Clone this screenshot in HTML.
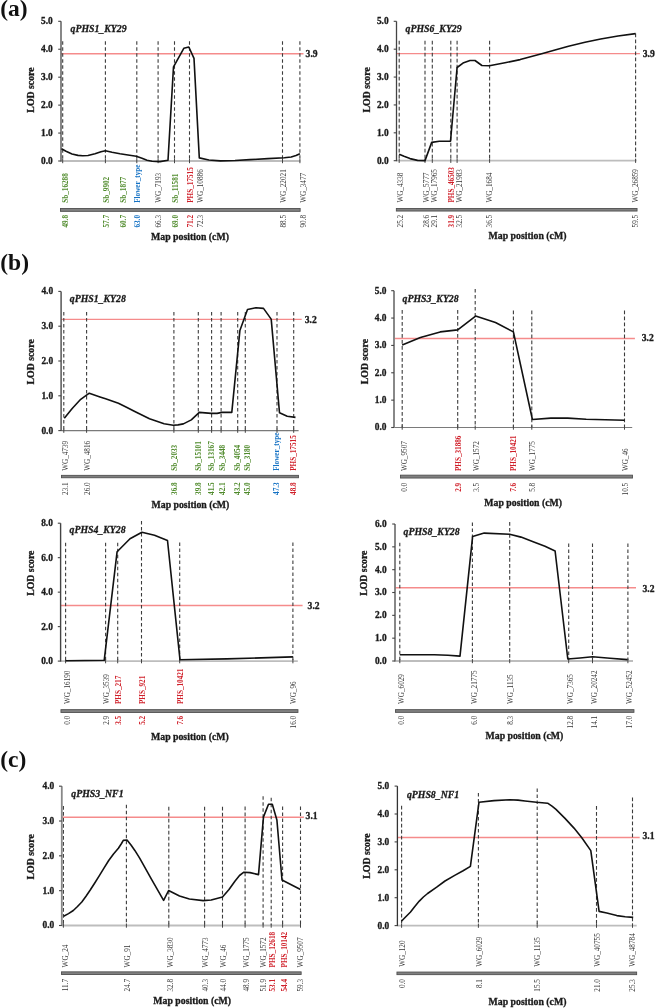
<!DOCTYPE html>
<html><head><meta charset="utf-8"><title>LOD plots</title>
<style>
html,body{margin:0;padding:0;background:#fff;}
body{width:656px;height:1008px;overflow:hidden;}
svg{display:block;filter:blur(0.3px);}
text{font-family:"Liberation Serif",serif;}
.dash{stroke:#3c3c3c;stroke-width:1.1;stroke-dasharray:3.6 2.4;fill:none;}
.thr{stroke:#f58b8b;stroke-width:1.4;}
.xal{stroke:#bdbdbd;stroke-width:1.8;}
.xad{stroke:#7a7a7a;stroke-width:1.1;}
.xt{stroke:#444;stroke-width:1;}
.yax{stroke:#555;stroke-width:1.3;}
.yt{stroke:#444;stroke-width:1.1;}
.tl{font-size:9.4px;font-weight:bold;text-anchor:end;fill:#1a1a1a;stroke:#1a1a1a;stroke-width:0.3;}
.crv{fill:none;stroke:#111;stroke-width:1.6;stroke-linejoin:round;}
.ttl{font-size:9.8px;font-weight:bold;font-style:italic;fill:#1a1a1a;stroke:#1a1a1a;stroke-width:0.3;}
.lod{font-size:9.8px;font-weight:bold;text-anchor:middle;fill:#1a1a1a;stroke:#1a1a1a;stroke-width:0.3;}
.thl{font-size:9.6px;font-weight:bold;fill:#1a1a1a;stroke:#1a1a1a;stroke-width:0.3;}
.mk{font-size:7.2px;}
.bar{fill:#808080;stroke:#505050;stroke-width:0.9;}
.mp{font-size:9.8px;font-weight:bold;text-anchor:middle;fill:#1a1a1a;stroke:#1a1a1a;stroke-width:0.3;}
.pl{font-size:23.5px;font-weight:bold;fill:#111;}
</style></head>
<body><svg width="656" height="1008" viewBox="0 0 656 1008">
<rect width="656" height="1008" fill="#fff"/>
<line x1="61" y1="53.7" x2="303.5" y2="53.7" class="thr"/>
<line x1="62.7" y1="41.2" x2="62.7" y2="161" class="dash"/>
<line x1="105.4" y1="41.2" x2="105.4" y2="161" class="dash"/>
<line x1="136.8" y1="41.2" x2="136.8" y2="161" class="dash"/>
<line x1="158.1" y1="41.2" x2="158.1" y2="161" class="dash"/>
<line x1="174.5" y1="41.2" x2="174.5" y2="161" class="dash"/>
<line x1="189.5" y1="41.2" x2="189.5" y2="161" class="dash"/>
<line x1="282.5" y1="41.2" x2="282.5" y2="161" class="dash"/>
<line x1="299.9" y1="41.2" x2="299.9" y2="161" class="dash"/>
<line x1="61" y1="161" x2="300.5" y2="161" class="xal"/>
<line x1="62.7" y1="159" x2="62.7" y2="163.2" class="xt"/>
<line x1="105.4" y1="159" x2="105.4" y2="163.2" class="xt"/>
<line x1="136.8" y1="159" x2="136.8" y2="163.2" class="xt"/>
<line x1="158.1" y1="159" x2="158.1" y2="163.2" class="xt"/>
<line x1="174.5" y1="159" x2="174.5" y2="163.2" class="xt"/>
<line x1="189.5" y1="159" x2="189.5" y2="163.2" class="xt"/>
<line x1="282.5" y1="159" x2="282.5" y2="163.2" class="xt"/>
<line x1="299.9" y1="159" x2="299.9" y2="163.2" class="xt"/>
<line x1="61" y1="21.3" x2="61" y2="161.5" stroke="#555" stroke-width="1.4"/>
<line x1="58.2" y1="161" x2="61" y2="161" class="yt"/>
<text x="52.7" y="163.9" class="tl">0.0</text>
<line x1="58.2" y1="133.06" x2="61" y2="133.06" class="yt"/>
<text x="52.7" y="135.96" class="tl">1.0</text>
<line x1="58.2" y1="105.12" x2="61" y2="105.12" class="yt"/>
<text x="52.7" y="108.02" class="tl">2.0</text>
<line x1="58.2" y1="77.18" x2="61" y2="77.18" class="yt"/>
<text x="52.7" y="80.08" class="tl">3.0</text>
<line x1="58.2" y1="49.24" x2="61" y2="49.24" class="yt"/>
<text x="52.7" y="52.14" class="tl">4.0</text>
<line x1="58.2" y1="21.3" x2="61" y2="21.3" class="yt"/>
<text x="52.7" y="24.2" class="tl">5.0</text>
<polyline points="61.5,148.8 66,151.3 72,154 78,155.4 82.7,155.7 88,155.5 95,153.8 101,151.8 105.4,150.8 112,152.3 120,153.8 128,155 136.3,156.3 142,158.2 147,160.2 152.1,161.2 160,161.6 168,160.3 173.5,66.9 183.8,48.3 188.8,47 194,58.4 199.3,157.9 208.9,160 220.3,160.9 235,160.5 250,159.6 268,158.6 284.3,157.7 291.2,157 296,155.6 299.9,153.8" class="crv"/>
<text x="70.5" y="32.2" class="ttl">qPHS1_KY29</text>
<text transform="translate(34.2,90) rotate(-90)" class="lod">LOD score</text>
<text x="305.6" y="56.9" class="thl">3.9</text>
<text transform="translate(68.08,202.8) rotate(-90)" fill="#4f8a2b" font-weight="bold" class="mk">Sb_16288</text>
<text transform="translate(68.08,215) rotate(-90)" fill="#4f8a2b" font-weight="bold" class="mk" text-anchor="end">49.8</text>
<text transform="translate(108.78,202.8) rotate(-90)" fill="#4f8a2b" font-weight="bold" class="mk">Sb_9902</text>
<text transform="translate(108.78,215) rotate(-90)" fill="#4f8a2b" font-weight="bold" class="mk" text-anchor="end">57.7</text>
<text transform="translate(125.68,202.8) rotate(-90)" fill="#4f8a2b" font-weight="bold" class="mk">Sb_1877</text>
<text transform="translate(125.68,215) rotate(-90)" fill="#4f8a2b" font-weight="bold" class="mk" text-anchor="end">60.7</text>
<text transform="translate(139.58,202.8) rotate(-90)" fill="#1572c4" font-weight="bold" class="mk">Flower_type</text>
<text transform="translate(139.58,215) rotate(-90)" fill="#1572c4" font-weight="bold" class="mk" text-anchor="end">63.0</text>
<text transform="translate(160.98,202.8) rotate(-90)" fill="#333333" class="mk">WG_7193</text>
<text transform="translate(160.98,215) rotate(-90)" fill="#333333" class="mk" text-anchor="end">66.3</text>
<text transform="translate(178.18,202.8) rotate(-90)" fill="#4f8a2b" font-weight="bold" class="mk">Sb_11581</text>
<text transform="translate(178.18,215) rotate(-90)" fill="#4f8a2b" font-weight="bold" class="mk" text-anchor="end">69.0</text>
<text transform="translate(193.08,202.8) rotate(-90)" fill="#d0202a" font-weight="bold" class="mk">PHS_17515</text>
<text transform="translate(193.08,215) rotate(-90)" fill="#d0202a" font-weight="bold" class="mk" text-anchor="end">71.2</text>
<text transform="translate(203.18,202.8) rotate(-90)" fill="#333333" class="mk">WG_10886</text>
<text transform="translate(203.18,215) rotate(-90)" fill="#333333" class="mk" text-anchor="end">72.3</text>
<text transform="translate(286.28,202.8) rotate(-90)" fill="#333333" class="mk">WG_22021</text>
<text transform="translate(286.28,215) rotate(-90)" fill="#333333" class="mk" text-anchor="end">88.5</text>
<text transform="translate(305.98,202.8) rotate(-90)" fill="#333333" class="mk">WG_3477</text>
<text transform="translate(305.98,215) rotate(-90)" fill="#333333" class="mk" text-anchor="end">90.8</text>
<rect x="60.45" y="208.45" width="239.7" height="2.9" class="bar"/>
<text x="190" y="239.6" class="mp">Map position (cM)</text>
<line x1="396.5" y1="53.6" x2="639.9" y2="53.6" class="thr"/>
<line x1="399.2" y1="40.8" x2="399.2" y2="160.7" class="dash"/>
<line x1="425" y1="40.8" x2="425" y2="160.7" class="dash"/>
<line x1="432.3" y1="40.8" x2="432.3" y2="160.7" class="dash"/>
<line x1="450.8" y1="40.8" x2="450.8" y2="160.7" class="dash"/>
<line x1="457.1" y1="40.8" x2="457.1" y2="160.7" class="dash"/>
<line x1="489.6" y1="40.8" x2="489.6" y2="160.7" class="dash"/>
<line x1="635.6" y1="33.6" x2="635.6" y2="160.7" class="dash"/>
<line x1="396.5" y1="160.7" x2="636.5" y2="160.7" class="xal"/>
<line x1="399.2" y1="158.7" x2="399.2" y2="162.9" class="xt"/>
<line x1="425" y1="158.7" x2="425" y2="162.9" class="xt"/>
<line x1="432.3" y1="158.7" x2="432.3" y2="162.9" class="xt"/>
<line x1="450.8" y1="158.7" x2="450.8" y2="162.9" class="xt"/>
<line x1="457.1" y1="158.7" x2="457.1" y2="162.9" class="xt"/>
<line x1="489.6" y1="158.7" x2="489.6" y2="162.9" class="xt"/>
<line x1="635.6" y1="158.7" x2="635.6" y2="162.9" class="xt"/>
<line x1="396.5" y1="21.3" x2="396.5" y2="161.2" stroke="#444" stroke-width="1.3"/>
<line x1="393.7" y1="160.7" x2="396.5" y2="160.7" class="yt"/>
<text x="388.6" y="163.6" class="tl">0.0</text>
<line x1="393.7" y1="132.82" x2="396.5" y2="132.82" class="yt"/>
<text x="388.6" y="135.72" class="tl">1.0</text>
<line x1="393.7" y1="104.94" x2="396.5" y2="104.94" class="yt"/>
<text x="388.6" y="107.84" class="tl">2.0</text>
<line x1="393.7" y1="77.06" x2="396.5" y2="77.06" class="yt"/>
<text x="388.6" y="79.96" class="tl">3.0</text>
<line x1="393.7" y1="49.18" x2="396.5" y2="49.18" class="yt"/>
<text x="388.6" y="52.08" class="tl">4.0</text>
<line x1="393.7" y1="21.3" x2="396.5" y2="21.3" class="yt"/>
<text x="388.6" y="24.2" class="tl">5.0</text>
<polyline points="399.2,154.3 404,156.3 410,158.6 417.5,160.4 425,160.6 431.7,142.4 439.3,141.2 450.5,141.2 457.1,67.5 463,63.1 470,60.5 475,60.5 481.9,65.5 489.4,65.8 505,62.8 520.2,59.6 541.7,53.7 555,50 568.5,46.2 585,42.3 600.7,39 618,36 635.6,33.6" class="crv"/>
<text x="405.6" y="32.2" class="ttl">qPHS6_KY29</text>
<text transform="translate(370.2,89.9) rotate(-90)" class="lod">LOD score</text>
<text x="642.7" y="56.8" class="thl">3.9</text>
<text transform="translate(403.18,202.6) rotate(-90)" fill="#333333" class="mk">WG_4338</text>
<text transform="translate(403.18,214.8) rotate(-90)" fill="#333333" class="mk" text-anchor="end">25.2</text>
<text transform="translate(428.88,202.6) rotate(-90)" fill="#333333" class="mk">WG_5777</text>
<text transform="translate(428.88,214.8) rotate(-90)" fill="#333333" class="mk" text-anchor="end">28.6</text>
<text transform="translate(436.88,202.6) rotate(-90)" fill="#333333" class="mk">WG_17965</text>
<text transform="translate(436.88,214.8) rotate(-90)" fill="#333333" class="mk" text-anchor="end">29.1</text>
<text transform="translate(454.28,202.6) rotate(-90)" fill="#d0202a" font-weight="bold" class="mk">PHS_46503</text>
<text transform="translate(454.28,214.8) rotate(-90)" fill="#d0202a" font-weight="bold" class="mk" text-anchor="end">31.9</text>
<text transform="translate(461.98,202.6) rotate(-90)" fill="#333333" class="mk">WG_21983</text>
<text transform="translate(461.98,214.8) rotate(-90)" fill="#333333" class="mk" text-anchor="end">32.5</text>
<text transform="translate(492.28,202.6) rotate(-90)" fill="#333333" class="mk">WG_1684</text>
<text transform="translate(492.28,214.8) rotate(-90)" fill="#333333" class="mk" text-anchor="end">36.5</text>
<text transform="translate(638.28,202.6) rotate(-90)" fill="#333333" class="mk">WG_26859</text>
<text transform="translate(638.28,214.8) rotate(-90)" fill="#333333" class="mk" text-anchor="end">59.5</text>
<rect x="396.35" y="208.45" width="240.7" height="2.6" class="bar"/>
<text x="527.5" y="239.4" class="mp">Map position (cM)</text>
<line x1="61.1" y1="319.4" x2="301.7" y2="319.4" class="thr"/>
<line x1="63.8" y1="311.9" x2="63.8" y2="430.6" class="dash"/>
<line x1="86.6" y1="311.9" x2="86.6" y2="430.6" class="dash"/>
<line x1="173.9" y1="311.9" x2="173.9" y2="430.6" class="dash"/>
<line x1="198.3" y1="311.9" x2="198.3" y2="430.6" class="dash"/>
<line x1="211.6" y1="311.9" x2="211.6" y2="430.6" class="dash"/>
<line x1="221.1" y1="311.9" x2="221.1" y2="430.6" class="dash"/>
<line x1="237.7" y1="311.9" x2="237.7" y2="430.6" class="dash"/>
<line x1="245.3" y1="311.9" x2="245.3" y2="430.6" class="dash"/>
<line x1="277" y1="311.9" x2="277" y2="430.6" class="dash"/>
<line x1="293.7" y1="311.9" x2="293.7" y2="430.6" class="dash"/>
<line x1="61.1" y1="430.6" x2="298.6" y2="430.6" class="xad"/>
<line x1="63.8" y1="428.6" x2="63.8" y2="432.8" class="xt"/>
<line x1="86.6" y1="428.6" x2="86.6" y2="432.8" class="xt"/>
<line x1="173.9" y1="428.6" x2="173.9" y2="432.8" class="xt"/>
<line x1="198.3" y1="428.6" x2="198.3" y2="432.8" class="xt"/>
<line x1="211.6" y1="428.6" x2="211.6" y2="432.8" class="xt"/>
<line x1="221.1" y1="428.6" x2="221.1" y2="432.8" class="xt"/>
<line x1="237.7" y1="428.6" x2="237.7" y2="432.8" class="xt"/>
<line x1="245.3" y1="428.6" x2="245.3" y2="432.8" class="xt"/>
<line x1="277" y1="428.6" x2="277" y2="432.8" class="xt"/>
<line x1="293.7" y1="428.6" x2="293.7" y2="432.8" class="xt"/>
<line x1="61.1" y1="291.4" x2="61.1" y2="431.1" stroke="#555" stroke-width="1.5"/>
<line x1="58.3" y1="430.6" x2="61.1" y2="430.6" class="yt"/>
<text x="53.1" y="433.5" class="tl">0.0</text>
<line x1="58.3" y1="395.8" x2="61.1" y2="395.8" class="yt"/>
<text x="53.1" y="398.7" class="tl">1.0</text>
<line x1="58.3" y1="361" x2="61.1" y2="361" class="yt"/>
<text x="53.1" y="363.9" class="tl">2.0</text>
<line x1="58.3" y1="326.2" x2="61.1" y2="326.2" class="yt"/>
<text x="53.1" y="329.1" class="tl">3.0</text>
<line x1="58.3" y1="291.4" x2="61.1" y2="291.4" class="yt"/>
<text x="53.1" y="294.3" class="tl">4.0</text>
<polyline points="64.3,418.2 72.2,408.5 80.7,399.3 86.2,395.4 89.3,393.2 100,396.9 105.6,398.7 118.4,403.3 126.5,407.3 134.8,411.5 149.5,418.8 164.1,423.8 173.2,425.2 178,424.9 183.4,423.9 191.3,419.9 199.3,412.4 211.2,413.4 217.1,413.4 222,412.4 231.8,412.4 239.9,330.4 247.5,309.5 255.9,307.7 263.5,308.4 271.2,319.1 279.5,412.7 287.2,416.2 295.5,417.4" class="crv"/>
<text x="69.8" y="302.4" class="ttl">qPHS1_KY28</text>
<text transform="translate(34.2,361.9) rotate(-90)" class="lod">LOD score</text>
<text x="304.7" y="322.8" class="thl">3.2</text>
<text transform="translate(67.78,470.8) rotate(-90)" fill="#333333" class="mk">WG_4739</text>
<text transform="translate(67.78,482.3) rotate(-90)" fill="#333333" class="mk" text-anchor="end">23.1</text>
<text transform="translate(89.98,470.8) rotate(-90)" fill="#333333" class="mk">WG_4816</text>
<text transform="translate(89.98,482.3) rotate(-90)" fill="#333333" class="mk" text-anchor="end">26.0</text>
<text transform="translate(176.78,470.8) rotate(-90)" fill="#4f8a2b" font-weight="bold" class="mk">Sb_2033</text>
<text transform="translate(176.78,482.3) rotate(-90)" fill="#4f8a2b" font-weight="bold" class="mk" text-anchor="end">36.8</text>
<text transform="translate(201.48,470.8) rotate(-90)" fill="#4f8a2b" font-weight="bold" class="mk">Sb_15101</text>
<text transform="translate(201.48,482.3) rotate(-90)" fill="#4f8a2b" font-weight="bold" class="mk" text-anchor="end">39.8</text>
<text transform="translate(213.98,470.8) rotate(-90)" fill="#4f8a2b" font-weight="bold" class="mk">Sb_13167</text>
<text transform="translate(213.98,482.3) rotate(-90)" fill="#4f8a2b" font-weight="bold" class="mk" text-anchor="end">41.5</text>
<text transform="translate(224.88,470.8) rotate(-90)" fill="#4f8a2b" font-weight="bold" class="mk">Sb_3448</text>
<text transform="translate(224.88,482.3) rotate(-90)" fill="#4f8a2b" font-weight="bold" class="mk" text-anchor="end">42.1</text>
<text transform="translate(239.78,470.8) rotate(-90)" fill="#4f8a2b" font-weight="bold" class="mk">Sb_4054</text>
<text transform="translate(239.78,482.3) rotate(-90)" fill="#4f8a2b" font-weight="bold" class="mk" text-anchor="end">43.2</text>
<text transform="translate(250.28,470.8) rotate(-90)" fill="#4f8a2b" font-weight="bold" class="mk">Sb_3180</text>
<text transform="translate(250.28,482.3) rotate(-90)" fill="#4f8a2b" font-weight="bold" class="mk" text-anchor="end">45.0</text>
<text transform="translate(279.38,470.8) rotate(-90)" fill="#1572c4" font-weight="bold" class="mk">Flower_type</text>
<text transform="translate(279.38,482.3) rotate(-90)" fill="#1572c4" font-weight="bold" class="mk" text-anchor="end">47.3</text>
<text transform="translate(296.28,470.8) rotate(-90)" fill="#d0202a" font-weight="bold" class="mk">PHS_17515</text>
<text transform="translate(296.28,482.3) rotate(-90)" fill="#d0202a" font-weight="bold" class="mk" text-anchor="end">48.8</text>
<rect x="61.45" y="475.35" width="237" height="2.4" class="bar"/>
<text x="190.4" y="508" class="mp">Map position (cM)</text>
<line x1="394" y1="338.5" x2="634.9" y2="338.5" class="thr"/>
<line x1="402.2" y1="310.1" x2="402.2" y2="427.5" class="dash"/>
<line x1="457.7" y1="310.1" x2="457.7" y2="427.5" class="dash"/>
<line x1="475.2" y1="289" x2="475.2" y2="427.5" class="dash"/>
<line x1="513.4" y1="310.6" x2="513.4" y2="427.5" class="dash"/>
<line x1="531.8" y1="310.6" x2="531.8" y2="427.5" class="dash"/>
<line x1="624.5" y1="310.6" x2="624.5" y2="427.5" class="dash"/>
<line x1="394" y1="427.5" x2="632.2" y2="427.5" class="xad"/>
<line x1="402.2" y1="425.5" x2="402.2" y2="429.7" class="xt"/>
<line x1="457.7" y1="425.5" x2="457.7" y2="429.7" class="xt"/>
<line x1="475.2" y1="425.5" x2="475.2" y2="429.7" class="xt"/>
<line x1="513.4" y1="425.5" x2="513.4" y2="429.7" class="xt"/>
<line x1="531.8" y1="425.5" x2="531.8" y2="429.7" class="xt"/>
<line x1="624.5" y1="425.5" x2="624.5" y2="429.7" class="xt"/>
<line x1="394" y1="290.7" x2="394" y2="428" stroke="#888" stroke-width="2.0"/>
<line x1="391.2" y1="427.5" x2="394" y2="427.5" class="yt"/>
<text x="386.5" y="430.4" class="tl">0.0</text>
<line x1="391.2" y1="400.14" x2="394" y2="400.14" class="yt"/>
<text x="386.5" y="403.04" class="tl">1.0</text>
<line x1="391.2" y1="372.78" x2="394" y2="372.78" class="yt"/>
<text x="386.5" y="375.68" class="tl">2.0</text>
<line x1="391.2" y1="345.42" x2="394" y2="345.42" class="yt"/>
<text x="386.5" y="348.32" class="tl">3.0</text>
<line x1="391.2" y1="318.06" x2="394" y2="318.06" class="yt"/>
<text x="386.5" y="320.96" class="tl">4.0</text>
<line x1="391.2" y1="290.7" x2="394" y2="290.7" class="yt"/>
<text x="386.5" y="293.6" class="tl">5.0</text>
<polyline points="402.2,345 420.4,337.5 440.2,331.9 457.7,329.9 475.6,316.1 495.5,322.5 513.4,331.9 532.4,419.5 550.8,418.1 567.8,418.1 586.2,419.2 624.5,420.3" class="crv"/>
<text x="402.6" y="301.8" class="ttl">qPHS3_KY28</text>
<text transform="translate(367.5,361.6) rotate(-90)" class="lod">LOD score</text>
<text x="641.8" y="340.9" class="thl">3.2</text>
<text transform="translate(406.78,471.1) rotate(-90)" fill="#333333" class="mk">WG_9507</text>
<text transform="translate(406.78,482.8) rotate(-90)" fill="#333333" class="mk" text-anchor="end">0.0</text>
<text transform="translate(461.48,471.1) rotate(-90)" fill="#d0202a" font-weight="bold" class="mk">PHS_31886</text>
<text transform="translate(461.48,482.8) rotate(-90)" fill="#d0202a" font-weight="bold" class="mk" text-anchor="end">2.9</text>
<text transform="translate(478.98,471.1) rotate(-90)" fill="#333333" class="mk">WG_1572</text>
<text transform="translate(478.98,482.8) rotate(-90)" fill="#333333" class="mk" text-anchor="end">3.5</text>
<text transform="translate(516.28,471.1) rotate(-90)" fill="#d0202a" font-weight="bold" class="mk">PHS_10421</text>
<text transform="translate(516.28,482.8) rotate(-90)" fill="#d0202a" font-weight="bold" class="mk" text-anchor="end">7.6</text>
<text transform="translate(535.38,471.1) rotate(-90)" fill="#333333" class="mk">WG_1775</text>
<text transform="translate(535.38,482.8) rotate(-90)" fill="#333333" class="mk" text-anchor="end">5.8</text>
<text transform="translate(627.98,471.1) rotate(-90)" fill="#333333" class="mk">WG_46</text>
<text transform="translate(627.98,482.8) rotate(-90)" fill="#333333" class="mk" text-anchor="end">10.5</text>
<rect x="400.55" y="475.15" width="232" height="2.9" class="bar"/>
<text x="523.2" y="505.5" class="mp">Map position (cM)</text>
<line x1="60.6" y1="605.5" x2="302.6" y2="605.5" class="thr"/>
<line x1="65.6" y1="542.7" x2="65.6" y2="661.1" class="dash"/>
<line x1="105.6" y1="542.7" x2="105.6" y2="661.1" class="dash"/>
<line x1="117.7" y1="542.7" x2="117.7" y2="661.1" class="dash"/>
<line x1="141.5" y1="521" x2="141.5" y2="661.1" class="dash"/>
<line x1="179.7" y1="542.5" x2="179.7" y2="661.1" class="dash"/>
<line x1="292.9" y1="542.5" x2="292.9" y2="661.1" class="dash"/>
<line x1="60.6" y1="661.1" x2="297.8" y2="661.1" class="xal"/>
<line x1="65.6" y1="659.1" x2="65.6" y2="663.3" class="xt"/>
<line x1="105.6" y1="659.1" x2="105.6" y2="663.3" class="xt"/>
<line x1="117.7" y1="659.1" x2="117.7" y2="663.3" class="xt"/>
<line x1="141.5" y1="659.1" x2="141.5" y2="663.3" class="xt"/>
<line x1="179.7" y1="659.1" x2="179.7" y2="663.3" class="xt"/>
<line x1="292.9" y1="659.1" x2="292.9" y2="663.3" class="xt"/>
<line x1="60.6" y1="523.2" x2="60.6" y2="661.6" stroke="#444" stroke-width="1.4"/>
<line x1="57.8" y1="661.1" x2="60.6" y2="661.1" class="yt"/>
<text x="52.9" y="664" class="tl">0.0</text>
<line x1="57.8" y1="626.62" x2="60.6" y2="626.62" class="yt"/>
<text x="52.9" y="629.52" class="tl">2.0</text>
<line x1="57.8" y1="592.15" x2="60.6" y2="592.15" class="yt"/>
<text x="52.9" y="595.05" class="tl">4.0</text>
<line x1="57.8" y1="557.67" x2="60.6" y2="557.67" class="yt"/>
<text x="52.9" y="560.57" class="tl">6.0</text>
<line x1="57.8" y1="523.2" x2="60.6" y2="523.2" class="yt"/>
<text x="52.9" y="526.1" class="tl">8.0</text>
<polyline points="65.6,660.7 104.2,660.3 117.1,551.7 130,538.8 141.9,532.2 154.5,535.3 167.5,540.5 180,659.8 226.9,658.9 292.9,656.9" class="crv"/>
<text x="69.5" y="533.2" class="ttl">qPHS4_KY28</text>
<text transform="translate(34.2,573.2) rotate(-90)" class="lod">LOD score</text>
<text x="307.6" y="608.9" class="thl">3.2</text>
<text transform="translate(69.78,704.1) rotate(-90)" fill="#333333" class="mk">WG_16190</text>
<text transform="translate(69.78,715.8) rotate(-90)" fill="#333333" class="mk" text-anchor="end">0.0</text>
<text transform="translate(108.68,704.1) rotate(-90)" fill="#333333" class="mk">WG_3539</text>
<text transform="translate(108.68,715.8) rotate(-90)" fill="#333333" class="mk" text-anchor="end">2.9</text>
<text transform="translate(121.28,704.1) rotate(-90)" fill="#d0202a" font-weight="bold" class="mk">PHS_217</text>
<text transform="translate(121.28,715.8) rotate(-90)" fill="#d0202a" font-weight="bold" class="mk" text-anchor="end">3.5</text>
<text transform="translate(145.18,704.1) rotate(-90)" fill="#d0202a" font-weight="bold" class="mk">PHS_921</text>
<text transform="translate(145.18,715.8) rotate(-90)" fill="#d0202a" font-weight="bold" class="mk" text-anchor="end">5.2</text>
<text transform="translate(183.18,704.1) rotate(-90)" fill="#d0202a" font-weight="bold" class="mk">PHS_10421</text>
<text transform="translate(183.18,715.8) rotate(-90)" fill="#d0202a" font-weight="bold" class="mk" text-anchor="end">7.6</text>
<text transform="translate(296.38,704.1) rotate(-90)" fill="#333333" class="mk">WG_96</text>
<text transform="translate(296.38,715.8) rotate(-90)" fill="#333333" class="mk" text-anchor="end">16.0</text>
<rect x="60.95" y="709.65" width="237" height="2.8" class="bar"/>
<text x="189.9" y="739.5" class="mp">Map position (cM)</text>
<line x1="395" y1="587.7" x2="636" y2="587.7" class="thr"/>
<line x1="399.8" y1="542.7" x2="399.8" y2="661" class="dash"/>
<line x1="472.4" y1="522.5" x2="472.4" y2="661" class="dash"/>
<line x1="509.7" y1="522.1" x2="509.7" y2="661" class="dash"/>
<line x1="568.7" y1="543.4" x2="568.7" y2="661" class="dash"/>
<line x1="592.5" y1="543.4" x2="592.5" y2="661" class="dash"/>
<line x1="627.9" y1="543.4" x2="627.9" y2="661" class="dash"/>
<line x1="395" y1="661" x2="633" y2="661" class="xal"/>
<line x1="399.8" y1="659" x2="399.8" y2="663.2" class="xt"/>
<line x1="472.4" y1="659" x2="472.4" y2="663.2" class="xt"/>
<line x1="509.7" y1="659" x2="509.7" y2="663.2" class="xt"/>
<line x1="568.7" y1="659" x2="568.7" y2="663.2" class="xt"/>
<line x1="592.5" y1="659" x2="592.5" y2="663.2" class="xt"/>
<line x1="627.9" y1="659" x2="627.9" y2="663.2" class="xt"/>
<line x1="395" y1="524.02" x2="395" y2="661.5" stroke="#7a7a7a" stroke-width="1.8"/>
<line x1="392.2" y1="661" x2="395" y2="661" class="yt"/>
<text x="386.6" y="663.9" class="tl">0.0</text>
<line x1="392.2" y1="638.17" x2="395" y2="638.17" class="yt"/>
<text x="386.6" y="641.07" class="tl">1.0</text>
<line x1="392.2" y1="615.34" x2="395" y2="615.34" class="yt"/>
<text x="386.6" y="618.24" class="tl">2.0</text>
<line x1="392.2" y1="592.51" x2="395" y2="592.51" class="yt"/>
<text x="386.6" y="595.41" class="tl">3.0</text>
<line x1="392.2" y1="569.68" x2="395" y2="569.68" class="yt"/>
<text x="386.6" y="572.58" class="tl">4.0</text>
<line x1="392.2" y1="546.85" x2="395" y2="546.85" class="yt"/>
<text x="386.6" y="549.75" class="tl">5.0</text>
<line x1="392.2" y1="524.02" x2="395" y2="524.02" class="yt"/>
<text x="386.6" y="526.92" class="tl">6.0</text>
<polyline points="399.8,654.7 434.3,654.7 448,655.3 460,656.1 472.6,536.6 484.2,533.1 509.7,534.3 521,537.1 533.8,541.9 545,546.3 555.1,551 567.8,659 580,658 592.5,656.8 610,658.2 627.4,659.6" class="crv"/>
<text x="403.6" y="534.6" class="ttl">qPHS8_KY28</text>
<text transform="translate(367.3,573.2) rotate(-90)" class="lod">LOD score</text>
<text x="642.5" y="591.8" class="thl">3.2</text>
<text transform="translate(404.18,704) rotate(-90)" fill="#333333" class="mk">WG_6029</text>
<text transform="translate(404.18,715.8) rotate(-90)" fill="#333333" class="mk" text-anchor="end">0.0</text>
<text transform="translate(476.68,704) rotate(-90)" fill="#333333" class="mk">WG_21775</text>
<text transform="translate(476.68,715.8) rotate(-90)" fill="#333333" class="mk" text-anchor="end">6.0</text>
<text transform="translate(513.18,704) rotate(-90)" fill="#333333" class="mk">WG_1135</text>
<text transform="translate(513.18,715.8) rotate(-90)" fill="#333333" class="mk" text-anchor="end">8.3</text>
<text transform="translate(572.58,704) rotate(-90)" fill="#333333" class="mk">WG_7365</text>
<text transform="translate(572.58,715.8) rotate(-90)" fill="#333333" class="mk" text-anchor="end">12.8</text>
<text transform="translate(596.88,704) rotate(-90)" fill="#333333" class="mk">WG_20242</text>
<text transform="translate(596.88,715.8) rotate(-90)" fill="#333333" class="mk" text-anchor="end">14.1</text>
<text transform="translate(632.08,704) rotate(-90)" fill="#333333" class="mk">WG_52452</text>
<text transform="translate(632.08,715.8) rotate(-90)" fill="#333333" class="mk" text-anchor="end">17.0</text>
<rect x="395.45" y="709.65" width="238.5" height="2.7" class="bar"/>
<text x="524.4" y="739" class="mp">Map position (cM)</text>
<line x1="61.8" y1="817.3" x2="303.9" y2="817.3" class="thr"/>
<line x1="63.4" y1="806.1" x2="63.4" y2="925.5" class="dash"/>
<line x1="126.4" y1="804.7" x2="126.4" y2="925.5" class="dash"/>
<line x1="168.8" y1="806.8" x2="168.8" y2="925.5" class="dash"/>
<line x1="204.6" y1="806.8" x2="204.6" y2="925.5" class="dash"/>
<line x1="222.5" y1="806.8" x2="222.5" y2="925.5" class="dash"/>
<line x1="245.1" y1="806.6" x2="245.1" y2="925.5" class="dash"/>
<line x1="263.1" y1="796.2" x2="263.1" y2="925.5" class="dash"/>
<line x1="271.2" y1="797.7" x2="271.2" y2="925.5" class="dash"/>
<line x1="282.6" y1="806.5" x2="282.6" y2="925.5" class="dash"/>
<line x1="300.5" y1="806.5" x2="300.5" y2="925.5" class="dash"/>
<line x1="61.8" y1="925.5" x2="301" y2="925.5" class="xal"/>
<line x1="63.4" y1="923.5" x2="63.4" y2="927.7" class="xt"/>
<line x1="126.4" y1="923.5" x2="126.4" y2="927.7" class="xt"/>
<line x1="168.8" y1="923.5" x2="168.8" y2="927.7" class="xt"/>
<line x1="204.6" y1="923.5" x2="204.6" y2="927.7" class="xt"/>
<line x1="222.5" y1="923.5" x2="222.5" y2="927.7" class="xt"/>
<line x1="245.1" y1="923.5" x2="245.1" y2="927.7" class="xt"/>
<line x1="263.1" y1="923.5" x2="263.1" y2="927.7" class="xt"/>
<line x1="271.2" y1="923.5" x2="271.2" y2="927.7" class="xt"/>
<line x1="282.6" y1="923.5" x2="282.6" y2="927.7" class="xt"/>
<line x1="300.5" y1="923.5" x2="300.5" y2="927.7" class="xt"/>
<line x1="61.8" y1="786.18" x2="61.8" y2="926" stroke="#888" stroke-width="1.8"/>
<line x1="59" y1="925.5" x2="61.8" y2="925.5" class="yt"/>
<text x="54.2" y="928.4" class="tl">0.0</text>
<line x1="59" y1="890.67" x2="61.8" y2="890.67" class="yt"/>
<text x="54.2" y="893.57" class="tl">1.0</text>
<line x1="59" y1="855.84" x2="61.8" y2="855.84" class="yt"/>
<text x="54.2" y="858.74" class="tl">2.0</text>
<line x1="59" y1="821.01" x2="61.8" y2="821.01" class="yt"/>
<text x="54.2" y="823.91" class="tl">3.0</text>
<line x1="59" y1="786.18" x2="61.8" y2="786.18" class="yt"/>
<text x="54.2" y="789.08" class="tl">4.0</text>
<polyline points="63.6,916.3 68.5,913.6 73.3,910.5 77.5,906.5 81.8,902 86,896.2 90.4,889.8 94.6,883.2 98.9,876.3 103.8,868.3 108.7,860.5 113.5,854 118.4,848.3 121.5,843.5 123.3,840.4 127,840 131,845 135,850.7 139.8,858.4 151.7,879.6 163.6,900.4 168.6,890.5 179.5,896 189.4,899 203.2,900.6 211.2,900 222.5,897 229,889.5 234.9,881.2 239.5,875.5 243.9,872.2 250,872.6 258.5,874.6 263.5,816.9 268.5,804.3 272.3,804.3 276.9,820 282,880 300.5,889.5" class="crv"/>
<text x="71.3" y="797.4" class="ttl">qPHS3_NF1</text>
<text transform="translate(34.2,856.9) rotate(-90)" class="lod">LOD score</text>
<text x="305.6" y="818.6" class="thl">3.1</text>
<text transform="translate(68.18,967.4) rotate(-90)" fill="#333333" class="mk">WG_24</text>
<text transform="translate(68.18,978.9) rotate(-90)" fill="#333333" class="mk" text-anchor="end">11.7</text>
<text transform="translate(129.98,967.4) rotate(-90)" fill="#333333" class="mk">WG_91</text>
<text transform="translate(129.98,978.9) rotate(-90)" fill="#333333" class="mk" text-anchor="end">24.7</text>
<text transform="translate(173.18,967.4) rotate(-90)" fill="#333333" class="mk">WG_3830</text>
<text transform="translate(173.18,978.9) rotate(-90)" fill="#333333" class="mk" text-anchor="end">32.8</text>
<text transform="translate(207.78,967.4) rotate(-90)" fill="#333333" class="mk">WG_4773</text>
<text transform="translate(207.78,978.9) rotate(-90)" fill="#333333" class="mk" text-anchor="end">40.3</text>
<text transform="translate(225.98,967.4) rotate(-90)" fill="#333333" class="mk">WG_46</text>
<text transform="translate(225.98,978.9) rotate(-90)" fill="#333333" class="mk" text-anchor="end">44.0</text>
<text transform="translate(248.98,967.4) rotate(-90)" fill="#333333" class="mk">WG_1775</text>
<text transform="translate(248.98,978.9) rotate(-90)" fill="#333333" class="mk" text-anchor="end">48.9</text>
<text transform="translate(266.48,967.4) rotate(-90)" fill="#333333" class="mk">WG_1572</text>
<text transform="translate(266.48,978.9) rotate(-90)" fill="#333333" class="mk" text-anchor="end">51.9</text>
<text transform="translate(275.08,967.4) rotate(-90)" fill="#d0202a" font-weight="bold" class="mk">PHS_12618</text>
<text transform="translate(275.08,978.9) rotate(-90)" fill="#d0202a" font-weight="bold" class="mk" text-anchor="end">53.1</text>
<text transform="translate(287.38,967.4) rotate(-90)" fill="#d0202a" font-weight="bold" class="mk">PHS_10142</text>
<text transform="translate(287.38,978.9) rotate(-90)" fill="#d0202a" font-weight="bold" class="mk" text-anchor="end">54.4</text>
<text transform="translate(302.78,967.4) rotate(-90)" fill="#333333" class="mk">WG_9507</text>
<text transform="translate(302.78,978.9) rotate(-90)" fill="#333333" class="mk" text-anchor="end">59.3</text>
<rect x="61.45" y="971.85" width="239.7" height="2.7" class="bar"/>
<text x="192.2" y="1003.8" class="mp">Map position (cM)</text>
<line x1="397.4" y1="837.5" x2="639.7" y2="837.5" class="thr"/>
<line x1="401.6" y1="805.8" x2="401.6" y2="925.6" class="dash"/>
<line x1="478.4" y1="793" x2="478.4" y2="925.6" class="dash"/>
<line x1="537.2" y1="788.5" x2="537.2" y2="925.6" class="dash"/>
<line x1="596.5" y1="806.1" x2="596.5" y2="925.6" class="dash"/>
<line x1="632.5" y1="797.6" x2="632.5" y2="925.6" class="dash"/>
<line x1="397.4" y1="925.6" x2="636.7" y2="925.6" class="xal"/>
<line x1="401.6" y1="923.6" x2="401.6" y2="927.8" class="xt"/>
<line x1="478.4" y1="923.6" x2="478.4" y2="927.8" class="xt"/>
<line x1="537.2" y1="923.6" x2="537.2" y2="927.8" class="xt"/>
<line x1="596.5" y1="923.6" x2="596.5" y2="927.8" class="xt"/>
<line x1="632.5" y1="923.6" x2="632.5" y2="927.8" class="xt"/>
<line x1="397.4" y1="786.1" x2="397.4" y2="926.1" stroke="#333" stroke-width="1.3"/>
<line x1="394.6" y1="925.6" x2="397.4" y2="925.6" class="yt"/>
<text x="389.2" y="928.5" class="tl">0.0</text>
<line x1="394.6" y1="897.7" x2="397.4" y2="897.7" class="yt"/>
<text x="389.2" y="900.6" class="tl">1.0</text>
<line x1="394.6" y1="869.8" x2="397.4" y2="869.8" class="yt"/>
<text x="389.2" y="872.7" class="tl">2.0</text>
<line x1="394.6" y1="841.9" x2="397.4" y2="841.9" class="yt"/>
<text x="389.2" y="844.8" class="tl">3.0</text>
<line x1="394.6" y1="814" x2="397.4" y2="814" class="yt"/>
<text x="389.2" y="816.9" class="tl">4.0</text>
<line x1="394.6" y1="786.1" x2="397.4" y2="786.1" class="yt"/>
<text x="389.2" y="789" class="tl">5.0</text>
<polyline points="401.4,921.2 405.8,916.8 410.3,912.2 414.8,906.4 419.3,901.1 423.4,897 427.6,893.5 436.7,887.2 445,881 454.7,875.4 463.1,870.8 470.4,866.4 479,802.2 494,800.6 509.7,799.8 518,800.1 525,801 536.6,802.3 547.6,803.2 552,806.2 556,809.4 565,818.4 574,828.1 581.8,837.7 590.8,850.6 599.1,911.4 606.8,913 616.8,915.6 625.2,916.8 633.2,917.4" class="crv"/>
<text x="406.9" y="797.8" class="ttl">qPHS8_NF1</text>
<text transform="translate(370.2,856.1) rotate(-90)" class="lod">LOD score</text>
<text x="642.5" y="839.1" class="thl">3.1</text>
<text transform="translate(404.88,966.8) rotate(-90)" fill="#333333" class="mk">WG_120</text>
<text transform="translate(404.88,979.1) rotate(-90)" fill="#333333" class="mk" text-anchor="end">0.0</text>
<text transform="translate(482.18,966.8) rotate(-90)" fill="#333333" class="mk">WG_6029</text>
<text transform="translate(482.18,979.1) rotate(-90)" fill="#333333" class="mk" text-anchor="end">8.1</text>
<text transform="translate(540.28,966.8) rotate(-90)" fill="#333333" class="mk">WG_1135</text>
<text transform="translate(540.28,979.1) rotate(-90)" fill="#333333" class="mk" text-anchor="end">15.5</text>
<text transform="translate(599.98,966.8) rotate(-90)" fill="#333333" class="mk">WG_40755</text>
<text transform="translate(599.98,979.1) rotate(-90)" fill="#333333" class="mk" text-anchor="end">21.0</text>
<text transform="translate(635.18,966.8) rotate(-90)" fill="#333333" class="mk">WG_48784</text>
<text transform="translate(635.18,979.1) rotate(-90)" fill="#333333" class="mk" text-anchor="end">25.3</text>
<rect x="396.95" y="972.05" width="239.7" height="2.6" class="bar"/>
<text x="527.5" y="1005" class="mp">Map position (cM)</text>
<text x="0.3" y="15.5" class="pl">(a)</text>
<text x="0.3" y="269.7" class="pl">(b)</text>
<text x="0.3" y="766.6" class="pl">(c)</text>
</svg></body></html>
